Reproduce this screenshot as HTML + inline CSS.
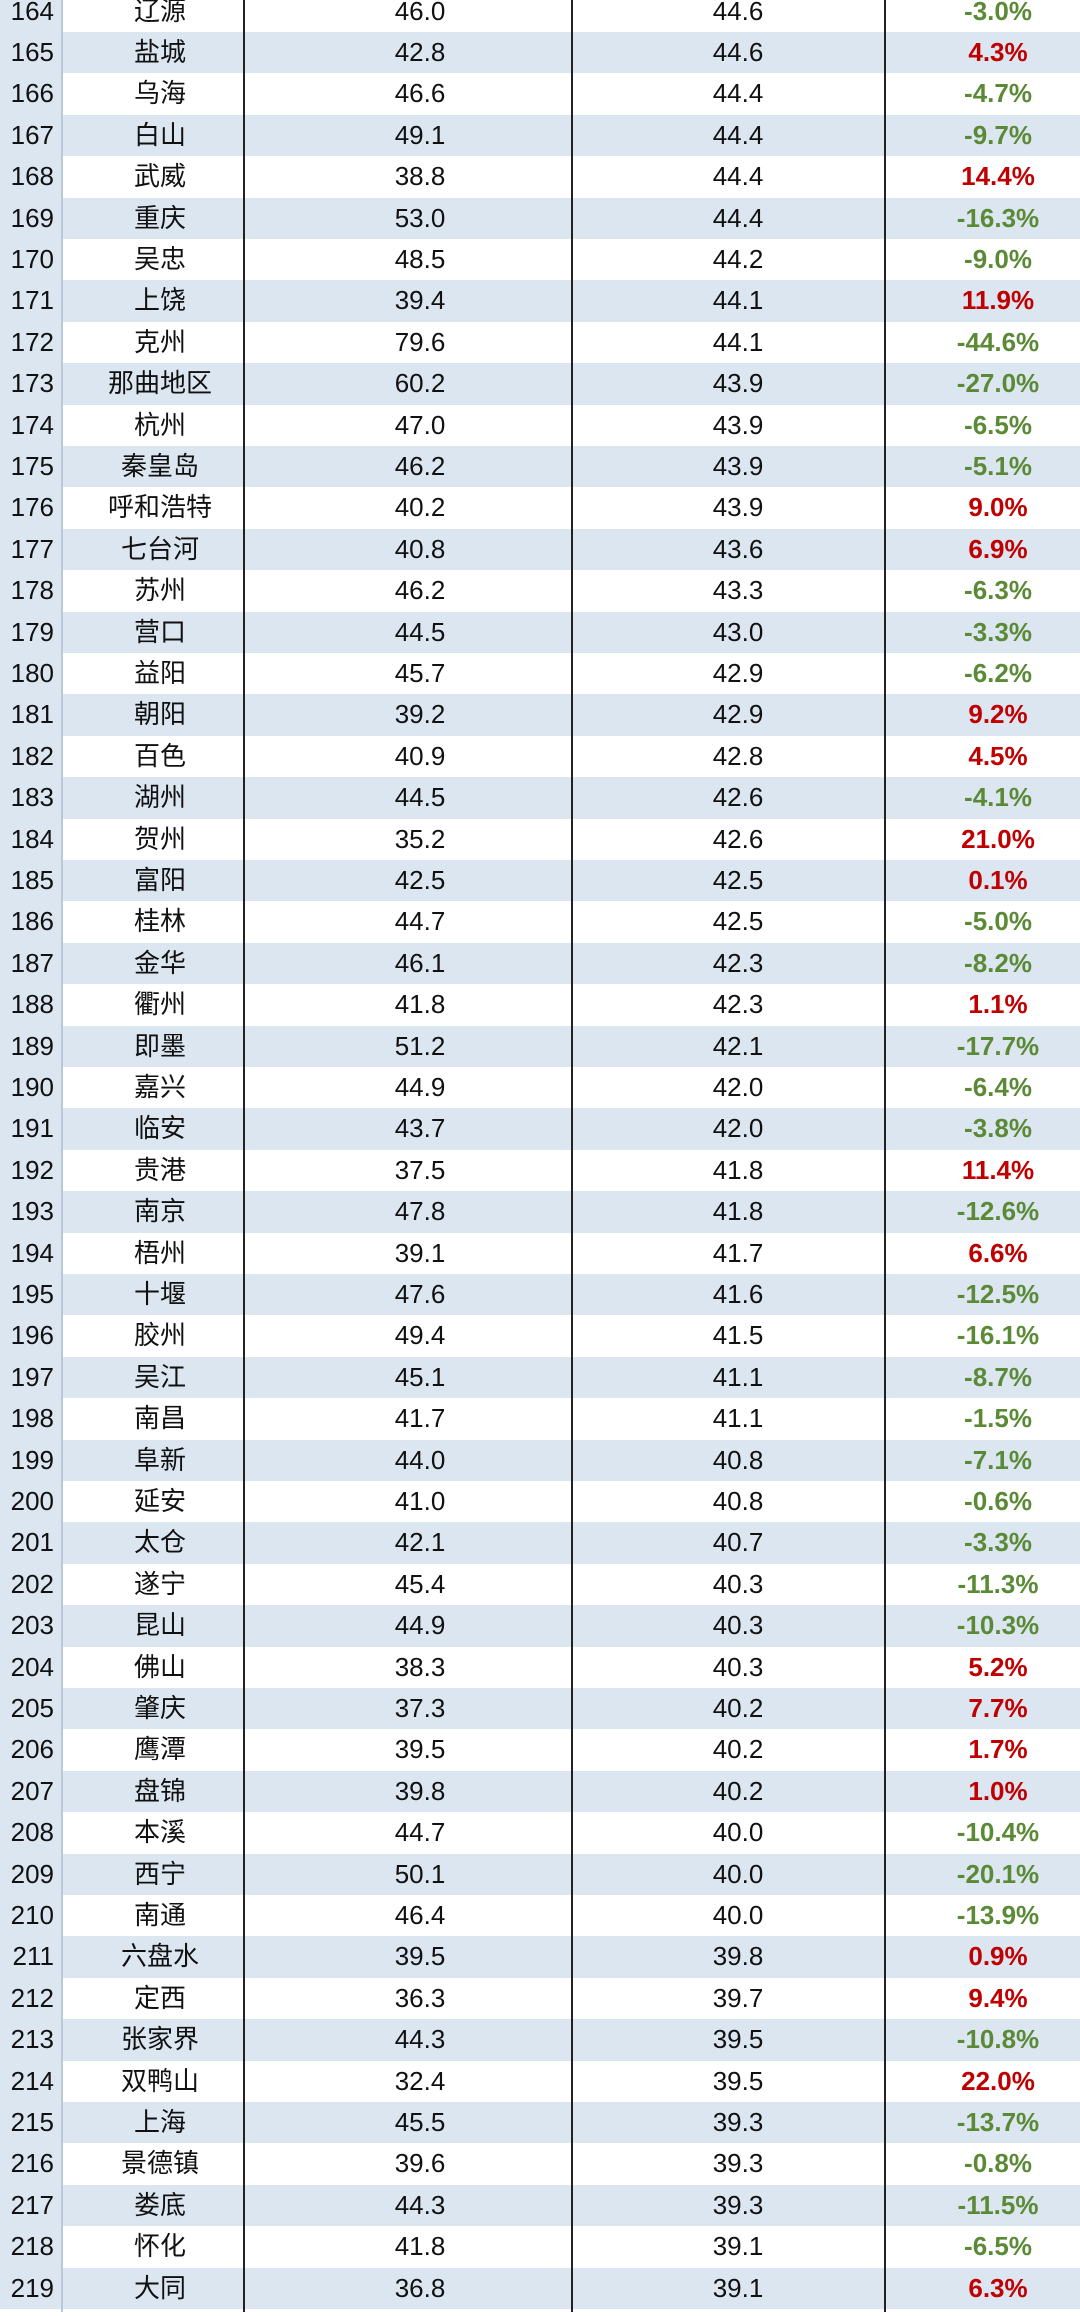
<!DOCTYPE html>
<html><head><meta charset="utf-8"><style>
body{margin:0;width:1080px;height:2316px;overflow:hidden;background:#fff;position:relative;font-family:"Liberation Sans","Noto Sans CJK SC",sans-serif;}
.r{position:absolute;left:0;width:1080px;height:41.4px;line-height:41.4px;font-size:26px;color:#111;}
.r.b{background:#dce6f1;}
.r span{position:absolute;top:0;white-space:nowrap;}
.a{left:0;width:54px;text-align:right;background:#dce6f1;padding-right:8px;}
.c{left:60px;width:200px;text-align:center;}
.x{left:320px;width:200px;text-align:center;}
.y{left:638px;width:200px;text-align:center;}
.p{left:898px;width:200px;text-align:center;font-weight:bold;}
.g{color:#5b8a37;}.d{color:#c00000;}
.v{position:absolute;top:0;height:2312px;width:2px;background:#222;}
#rows{position:absolute;left:0;top:-9.4px;}
.r .a{width:54px;padding-right:8px;}
</style></head><body>
<div id="rows">
<div class="r" style="top:0px"><span class="a">164</span><span class="c">辽源</span><span class="x">46.0</span><span class="y">44.6</span><span class="p g">-3.0%</span></div>
<div class="r b" style="top:41.4px"><span class="a">165</span><span class="c">盐城</span><span class="x">42.8</span><span class="y">44.6</span><span class="p d">4.3%</span></div>
<div class="r" style="top:82.8px"><span class="a">166</span><span class="c">乌海</span><span class="x">46.6</span><span class="y">44.4</span><span class="p g">-4.7%</span></div>
<div class="r b" style="top:124.2px"><span class="a">167</span><span class="c">白山</span><span class="x">49.1</span><span class="y">44.4</span><span class="p g">-9.7%</span></div>
<div class="r" style="top:165.6px"><span class="a">168</span><span class="c">武威</span><span class="x">38.8</span><span class="y">44.4</span><span class="p d">14.4%</span></div>
<div class="r b" style="top:207px"><span class="a">169</span><span class="c">重庆</span><span class="x">53.0</span><span class="y">44.4</span><span class="p g">-16.3%</span></div>
<div class="r" style="top:248.4px"><span class="a">170</span><span class="c">吴忠</span><span class="x">48.5</span><span class="y">44.2</span><span class="p g">-9.0%</span></div>
<div class="r b" style="top:289.8px"><span class="a">171</span><span class="c">上饶</span><span class="x">39.4</span><span class="y">44.1</span><span class="p d">11.9%</span></div>
<div class="r" style="top:331.2px"><span class="a">172</span><span class="c">克州</span><span class="x">79.6</span><span class="y">44.1</span><span class="p g">-44.6%</span></div>
<div class="r b" style="top:372.6px"><span class="a">173</span><span class="c">那曲地区</span><span class="x">60.2</span><span class="y">43.9</span><span class="p g">-27.0%</span></div>
<div class="r" style="top:414px"><span class="a">174</span><span class="c">杭州</span><span class="x">47.0</span><span class="y">43.9</span><span class="p g">-6.5%</span></div>
<div class="r b" style="top:455.4px"><span class="a">175</span><span class="c">秦皇岛</span><span class="x">46.2</span><span class="y">43.9</span><span class="p g">-5.1%</span></div>
<div class="r" style="top:496.8px"><span class="a">176</span><span class="c">呼和浩特</span><span class="x">40.2</span><span class="y">43.9</span><span class="p d">9.0%</span></div>
<div class="r b" style="top:538.2px"><span class="a">177</span><span class="c">七台河</span><span class="x">40.8</span><span class="y">43.6</span><span class="p d">6.9%</span></div>
<div class="r" style="top:579.6px"><span class="a">178</span><span class="c">苏州</span><span class="x">46.2</span><span class="y">43.3</span><span class="p g">-6.3%</span></div>
<div class="r b" style="top:621px"><span class="a">179</span><span class="c">营口</span><span class="x">44.5</span><span class="y">43.0</span><span class="p g">-3.3%</span></div>
<div class="r" style="top:662.4px"><span class="a">180</span><span class="c">益阳</span><span class="x">45.7</span><span class="y">42.9</span><span class="p g">-6.2%</span></div>
<div class="r b" style="top:703.8px"><span class="a">181</span><span class="c">朝阳</span><span class="x">39.2</span><span class="y">42.9</span><span class="p d">9.2%</span></div>
<div class="r" style="top:745.2px"><span class="a">182</span><span class="c">百色</span><span class="x">40.9</span><span class="y">42.8</span><span class="p d">4.5%</span></div>
<div class="r b" style="top:786.6px"><span class="a">183</span><span class="c">湖州</span><span class="x">44.5</span><span class="y">42.6</span><span class="p g">-4.1%</span></div>
<div class="r" style="top:828px"><span class="a">184</span><span class="c">贺州</span><span class="x">35.2</span><span class="y">42.6</span><span class="p d">21.0%</span></div>
<div class="r b" style="top:869.4px"><span class="a">185</span><span class="c">富阳</span><span class="x">42.5</span><span class="y">42.5</span><span class="p d">0.1%</span></div>
<div class="r" style="top:910.8px"><span class="a">186</span><span class="c">桂林</span><span class="x">44.7</span><span class="y">42.5</span><span class="p g">-5.0%</span></div>
<div class="r b" style="top:952.2px"><span class="a">187</span><span class="c">金华</span><span class="x">46.1</span><span class="y">42.3</span><span class="p g">-8.2%</span></div>
<div class="r" style="top:993.6px"><span class="a">188</span><span class="c">衢州</span><span class="x">41.8</span><span class="y">42.3</span><span class="p d">1.1%</span></div>
<div class="r b" style="top:1035px"><span class="a">189</span><span class="c">即墨</span><span class="x">51.2</span><span class="y">42.1</span><span class="p g">-17.7%</span></div>
<div class="r" style="top:1076.4px"><span class="a">190</span><span class="c">嘉兴</span><span class="x">44.9</span><span class="y">42.0</span><span class="p g">-6.4%</span></div>
<div class="r b" style="top:1117.8px"><span class="a">191</span><span class="c">临安</span><span class="x">43.7</span><span class="y">42.0</span><span class="p g">-3.8%</span></div>
<div class="r" style="top:1159.2px"><span class="a">192</span><span class="c">贵港</span><span class="x">37.5</span><span class="y">41.8</span><span class="p d">11.4%</span></div>
<div class="r b" style="top:1200.6px"><span class="a">193</span><span class="c">南京</span><span class="x">47.8</span><span class="y">41.8</span><span class="p g">-12.6%</span></div>
<div class="r" style="top:1242px"><span class="a">194</span><span class="c">梧州</span><span class="x">39.1</span><span class="y">41.7</span><span class="p d">6.6%</span></div>
<div class="r b" style="top:1283.4px"><span class="a">195</span><span class="c">十堰</span><span class="x">47.6</span><span class="y">41.6</span><span class="p g">-12.5%</span></div>
<div class="r" style="top:1324.8px"><span class="a">196</span><span class="c">胶州</span><span class="x">49.4</span><span class="y">41.5</span><span class="p g">-16.1%</span></div>
<div class="r b" style="top:1366.2px"><span class="a">197</span><span class="c">吴江</span><span class="x">45.1</span><span class="y">41.1</span><span class="p g">-8.7%</span></div>
<div class="r" style="top:1407.6px"><span class="a">198</span><span class="c">南昌</span><span class="x">41.7</span><span class="y">41.1</span><span class="p g">-1.5%</span></div>
<div class="r b" style="top:1449px"><span class="a">199</span><span class="c">阜新</span><span class="x">44.0</span><span class="y">40.8</span><span class="p g">-7.1%</span></div>
<div class="r" style="top:1490.4px"><span class="a">200</span><span class="c">延安</span><span class="x">41.0</span><span class="y">40.8</span><span class="p g">-0.6%</span></div>
<div class="r b" style="top:1531.8px"><span class="a">201</span><span class="c">太仓</span><span class="x">42.1</span><span class="y">40.7</span><span class="p g">-3.3%</span></div>
<div class="r" style="top:1573.2px"><span class="a">202</span><span class="c">遂宁</span><span class="x">45.4</span><span class="y">40.3</span><span class="p g">-11.3%</span></div>
<div class="r b" style="top:1614.6px"><span class="a">203</span><span class="c">昆山</span><span class="x">44.9</span><span class="y">40.3</span><span class="p g">-10.3%</span></div>
<div class="r" style="top:1656px"><span class="a">204</span><span class="c">佛山</span><span class="x">38.3</span><span class="y">40.3</span><span class="p d">5.2%</span></div>
<div class="r b" style="top:1697.4px"><span class="a">205</span><span class="c">肇庆</span><span class="x">37.3</span><span class="y">40.2</span><span class="p d">7.7%</span></div>
<div class="r" style="top:1738.8px"><span class="a">206</span><span class="c">鹰潭</span><span class="x">39.5</span><span class="y">40.2</span><span class="p d">1.7%</span></div>
<div class="r b" style="top:1780.2px"><span class="a">207</span><span class="c">盘锦</span><span class="x">39.8</span><span class="y">40.2</span><span class="p d">1.0%</span></div>
<div class="r" style="top:1821.6px"><span class="a">208</span><span class="c">本溪</span><span class="x">44.7</span><span class="y">40.0</span><span class="p g">-10.4%</span></div>
<div class="r b" style="top:1863px"><span class="a">209</span><span class="c">西宁</span><span class="x">50.1</span><span class="y">40.0</span><span class="p g">-20.1%</span></div>
<div class="r" style="top:1904.4px"><span class="a">210</span><span class="c">南通</span><span class="x">46.4</span><span class="y">40.0</span><span class="p g">-13.9%</span></div>
<div class="r b" style="top:1945.8px"><span class="a">211</span><span class="c">六盘水</span><span class="x">39.5</span><span class="y">39.8</span><span class="p d">0.9%</span></div>
<div class="r" style="top:1987.2px"><span class="a">212</span><span class="c">定西</span><span class="x">36.3</span><span class="y">39.7</span><span class="p d">9.4%</span></div>
<div class="r b" style="top:2028.6px"><span class="a">213</span><span class="c">张家界</span><span class="x">44.3</span><span class="y">39.5</span><span class="p g">-10.8%</span></div>
<div class="r" style="top:2070px"><span class="a">214</span><span class="c">双鸭山</span><span class="x">32.4</span><span class="y">39.5</span><span class="p d">22.0%</span></div>
<div class="r b" style="top:2111.4px"><span class="a">215</span><span class="c">上海</span><span class="x">45.5</span><span class="y">39.3</span><span class="p g">-13.7%</span></div>
<div class="r" style="top:2152.8px"><span class="a">216</span><span class="c">景德镇</span><span class="x">39.6</span><span class="y">39.3</span><span class="p g">-0.8%</span></div>
<div class="r b" style="top:2194.2px"><span class="a">217</span><span class="c">娄底</span><span class="x">44.3</span><span class="y">39.3</span><span class="p g">-11.5%</span></div>
<div class="r" style="top:2235.6px"><span class="a">218</span><span class="c">怀化</span><span class="x">41.8</span><span class="y">39.1</span><span class="p g">-6.5%</span></div>
<div class="r b" style="top:2277px"><span class="a">219</span><span class="c">大同</span><span class="x">36.8</span><span class="y">39.1</span><span class="p d">6.3%</span></div>
</div>
<div class="v" style="left:61px;background:#b8c8da;"></div>
<div class="v" style="left:243px"></div>
<div class="v" style="left:571px"></div>
<div class="v" style="left:884px"></div>
</body></html>
